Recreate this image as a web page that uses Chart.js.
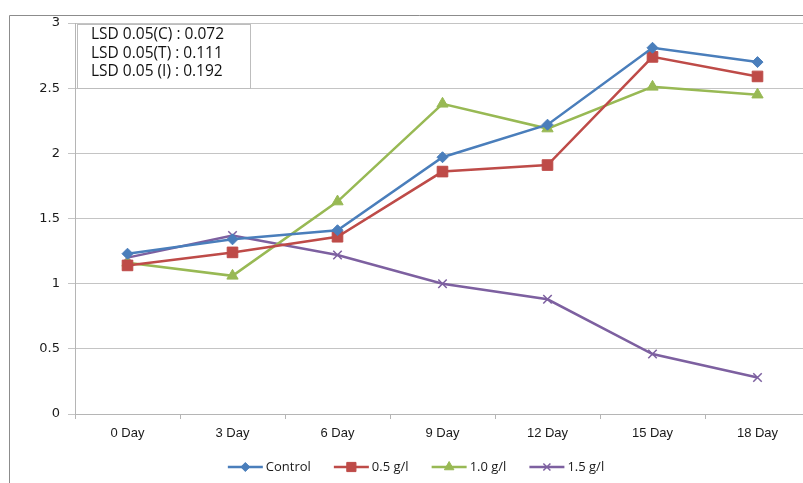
<!DOCTYPE html>
<html>
<head>
<meta charset="utf-8">
<script src="https://cdn.jsdelivr.net/npm/chart.js@4.4.1/dist/chart.umd.min.js"></script>
<style>
  html, body { margin: 0; padding: 0; background: #fff; overflow: hidden; }
  #wrap { position: relative; width: 830px; height: 483px; }
</style>
</head>
<body>
<div id="wrap"><canvas id="chart" width="830" height="483"></canvas></div>
<script>
// data
const days = ["0 Day", "3 Day", "6 Day", "9 Day", "12 Day", "15 Day", "18 Day"];
const control = [1.23, 1.34, 1.41, 1.97, 2.22, 2.81, 2.70];
const g05 = [1.14, 1.24, 1.36, 1.86, 1.91, 2.74, 2.59];
const g10 = [1.16, 1.06, 1.63, 2.38, 2.19, 2.51, 2.45];
const g15 = [1.20, 1.37, 1.22, 1.00, 0.88, 0.46, 0.28];
const seriesNames = ["Control", "0.5 g/l", "1.0 g/l", "1.5 g/l"];
const lsdLines = ["LSD 0.05(C) : 0.072", "LSD 0.05(T) : 0.111", "LSD 0.05 (I) : 0.192"];

const colors = ["#4a7ebb", "#be4b48", "#98b954", "#7d60a0"];
const styles = ["rectRot", "rect", "triangle", "crossRot"];
const radii = [5.5, 7.5, 6.5, 6];

function makeSet(i, values) {
  return {
    label: seriesNames[i],
    data: values,
    borderColor: colors[i],
    backgroundColor: colors[i],
    pointBackgroundColor: colors[i],
    pointBorderColor: colors[i],
    pointStyle: styles[i],
    pointRadius: radii[i],
    pointBorderWidth: styles[i] === "crossRot" ? 1.5 : 1,
    borderWidth: 2.5,
    tension: 0
  };
}

// frame, LSD box and Excel-style legend
const decor = {
  id: "decor",
  beforeDraw(chart) {
    const ctx = chart.ctx;
    ctx.save();
    ctx.strokeStyle = "#8c8c8c";
    ctx.lineWidth = 1;
    ctx.beginPath();
    ctx.moveTo(9.5, 483);
    ctx.lineTo(9.5, 15.5);
    ctx.lineTo(830, 15.5);
    ctx.stroke();
    ctx.restore();
  },
  afterDraw(chart) {
    const ctx = chart.ctx;
    ctx.save();
    // LSD box
    ctx.fillStyle = "#fff";
    ctx.fillRect(77, 24, 173, 64);
    ctx.strokeStyle = "#bdbdbd";
    ctx.lineWidth = 1;
    ctx.strokeRect(77.5, 24.5, 173, 64);
    ctx.fillStyle = "#111";
    ctx.font = "15.5px 'Open Sans', sans-serif";
    ctx.textBaseline = "middle";
    ctx.textAlign = "left";
    lsdLines.forEach((t, i) => ctx.fillText(t, 91, 35 + i * 18.5));

    // legend
    ctx.font = "13px 'Open Sans', sans-serif";
    const lineLen = 35, gap = 3, spacing = 23;
    const widths = seriesNames.map(n => ctx.measureText(n).width);
    const total = widths.reduce((a, w) => a + lineLen + gap + w, 0) + spacing * (seriesNames.length - 1);
    let x = 416 - total / 2;
    const y = 467;
    seriesNames.forEach((n, i) => {
      ctx.strokeStyle = colors[i];
      ctx.lineWidth = 2.5;
      ctx.beginPath();
      ctx.moveTo(x, y);
      ctx.lineTo(x + lineLen, y);
      ctx.stroke();
      ctx.fillStyle = colors[i];
      ctx.lineWidth = styles[i] === "crossRot" ? 1.5 : 1;
      Chart.helpers.drawPoint(ctx, { pointStyle: styles[i], radius: radii[i] - 1, borderWidth: 1 }, x + lineLen / 2, y);
      ctx.fillStyle = "#1a1a1a";
      ctx.fillText(n, x + lineLen + gap, y);
      x += lineLen + gap + widths[i] + spacing;
    });
    ctx.restore();
  }
};

new Chart(document.getElementById("chart"), {
  type: "line",
  data: {
    labels: days,
    datasets: [makeSet(0, control), makeSet(1, g05), makeSet(2, g10), makeSet(3, g15)]
  },
  options: {
    responsive: false,
    animation: false,
    layout: { padding: { left: 0, top: 23, right: 20, bottom: 0 } },
    plugins: { legend: { display: false }, tooltip: { enabled: false } },
    scales: {
      x: {
        offset: true,
        grid: { offset: true, drawOnChartArea: false, drawTicks: true, tickLength: 5, color: "#b5b5b5" },
        border: { color: "#b5b5b5" },
        ticks: { color: "#1a1a1a", padding: 7, font: { family: "'Liberation Sans', sans-serif", size: 13 } },
        afterFit(scale) { scale.height = 69; }
      },
      y: {
        min: 0,
        max: 3,
        ticks: {
          stepSize: 0.5, color: "#1a1a1a", padding: 8,
          font: { family: "'DejaVu Sans', sans-serif", size: 13 },
          callback: v => String(Number(v))
        },
        grid: { color: "#c4c4c4", tickLength: 7 },
        border: { color: "#b5b5b5" },
        afterFit(scale) { scale.width = 75; }
      }
    }
  },
  plugins: [decor]
});
</script>
</body>
</html>
